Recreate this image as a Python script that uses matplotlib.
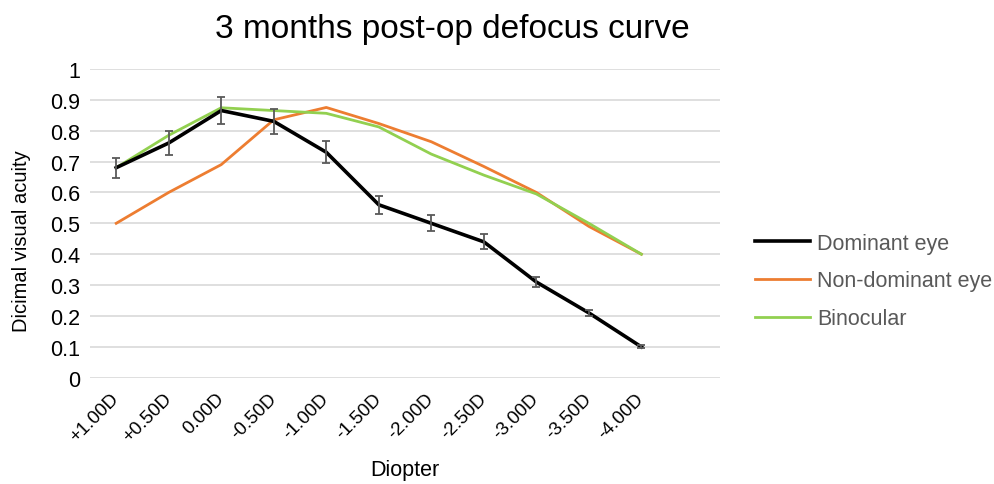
import numpy as np
import matplotlib
matplotlib.use('Agg')
import matplotlib.pyplot as plt
from matplotlib.transforms import ScaledTranslation

plt.rcParams['font.family'] = ['Liberation Sans', 'DejaVu Sans']

diopters = ["+1.00D", "+0.50D", "0.00D", "-0.50D", "-1.00D", "-1.50D",
            "-2.00D", "-2.50D", "-3.00D", "-3.50D", "-4.00D"]
dominant = [0.68, 0.76, 0.865, 0.83, 0.73, 0.56, 0.50, 0.44, 0.31, 0.21, 0.10]
dominant_err = [0.033, 0.039, 0.045, 0.041, 0.036, 0.029, 0.026, 0.024, 0.016, 0.011, 0.005]
non_dominant = [0.50, 0.60, 0.69, 0.835, 0.875, 0.823, 0.764, 0.684, 0.60, 0.49, 0.40]
binocular = [0.68, 0.785, 0.874, 0.865, 0.856, 0.812, 0.724, 0.656, 0.595, 0.50, 0.40]

x = np.arange(len(diopters))

fig = plt.figure(figsize=(9.94, 4.85), dpi=100)
ax = fig.add_axes([0.0905, 0.219, 0.634, 0.637])

ax.plot(x, non_dominant, color="#ED7D31", linewidth=2.0, label="Non-dominant eye", zorder=3)
ax.plot(x, binocular, color="#92D050", linewidth=2.0, label="Binocular", zorder=3)
ax.plot(x, dominant, color="#000000", linewidth=2.6, label="Dominant eye", zorder=4)
ax.errorbar(x, dominant, yerr=dominant_err, fmt="none", ecolor="#595959",
            elinewidth=1.3, capsize=3, capthick=1.3, zorder=5)

ax.set_xlim(-0.5, 11.5)
ax.set_ylim(0, 1)
ax.set_yticks(np.arange(0, 1.01, 0.1))
ax.set_yticklabels(["0", "0.1", "0.2", "0.3", "0.4", "0.5", "0.6", "0.7", "0.8", "0.9", "1"],
                   fontsize=15.5)
ax.set_xticks(x)
ax.set_xticklabels(diopters, rotation=45, ha="right", va="top",
                   rotation_mode="anchor", fontsize=13.5)
ax.tick_params(axis="both", length=0)
ax.tick_params(axis="x", pad=7)
ax.tick_params(axis="y", pad=7)

# nudge rotated labels a little left/down like the original
shift = ScaledTranslation(-6 / 100, -2 / 100, fig.dpi_scale_trans)
for lbl in ax.get_xticklabels():
    lbl.set_transform(lbl.get_transform() + shift)

for s in ax.spines.values():
    s.set_visible(False)
ax.grid(axis="y", color="#D9D9D9", linewidth=1.2)
ax.set_axisbelow(True)

ax.set_xlabel("Diopter", fontsize=15.5)
ax.xaxis.set_label_coords(0.5, -0.262)
fig.text(22 / 994, 1 - 241 / 485, "Dicimal visual acuity", fontsize=14.5,
         rotation=90, ha="center", va="center")
fig.text(452 / 994, 1 - 38 / 485, "3 months post-op defocus curve", fontsize=24,
         ha="center", va="baseline")

handles, labels = ax.get_legend_handles_labels()
order = [2, 0, 1]
leg = fig.legend([handles[i] for i in order], [labels[i] for i in order],
                 loc="center left", bbox_to_anchor=(0.7596, 0.4186), frameon=False,
                 fontsize=15.5, handlelength=2.55, labelspacing=0.78, handletextpad=0.35,
                 borderpad=0, borderaxespad=0)
for t in leg.get_texts():
    t.set_color("#595959")

fig.savefig("out.png", dpi=100, facecolor="white")
